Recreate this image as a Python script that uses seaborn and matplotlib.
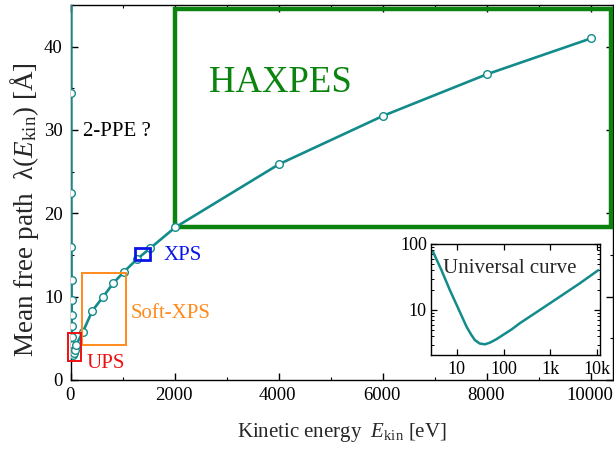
import matplotlib
matplotlib.use("Agg")
import matplotlib.pyplot as plt
from matplotlib.patches import Rectangle
from matplotlib.transforms import ScaledTranslation
from matplotlib.ticker import FixedLocator, MultipleLocator, LogLocator, NullFormatter
import seaborn as sns
import pandas as pd

# Mean free path vs. kinetic energy (main panel)
energy_ev = [3, 5, 6.7, 8, 10, 11.5, 13, 15, 17, 20, 24, 30, 40, 50, 70, 100,
             230, 410, 620, 810, 1020, 1270, 1520, 2000, 4000, 6000, 8000, 10000]
mfp_angstrom = [76, 34.5, 22.5, 16.0, 12.0, 9.6, 7.8, 6.5, 5.2, 4.2, 3.5, 3.1, 3.0, 3.2, 3.6, 4.2,
                5.8, 8.3, 10.0, 11.6, 13.0, 14.5, 15.8, 18.3, 25.9, 31.7, 36.7, 41.0]

# Universal curve (log-log inset)
uc_energy = [3.1, 4.7, 7.1, 10.7, 16.1, 20, 24.3, 31, 40, 51, 70, 98, 150, 223, 598, 1600, 4300, 10600]
uc_mfp = [76, 40, 20, 10.6, 5.6, 4.3, 3.5, 3.1, 3.02, 3.2, 3.6, 4.2, 5.1, 6.3, 10, 15.9, 25.4, 40]

x_ticks = [0, 2000, 4000, 6000, 8000, 10000]
y_ticks = [0, 10, 20, 30, 40]
inset_x_ticks = [10, 100, 1000, 10000]
inset_x_labels = ["10", "100", "1k", "10k"]
inset_y_ticks = [10, 100]
inset_y_labels = ["10", "100"]

TEAL = "#138b8b"
GREEN = "#0a840f"

sns.set_theme(style="ticks")
plt.rcParams["font.family"] = ["Liberation Serif", "DejaVu Serif"]
plt.rcParams["mathtext.fontset"] = "custom"
plt.rcParams["mathtext.rm"] = "Liberation Serif"
plt.rcParams["mathtext.it"] = "Liberation Serif:italic"
plt.rcParams["axes.edgecolor"] = "black"
plt.rcParams["axes.linewidth"] = 1.0

fig = plt.figure(figsize=(6.14, 4.5), dpi=100)
ax = fig.add_axes([71 / 614, 70 / 450, 542 / 614, 375 / 450])

main_df = pd.DataFrame({"E": energy_ev, "lam": mfp_angstrom})
sns.lineplot(data=main_df, x="E", y="lam", ax=ax, sort=False, color=TEAL, lw=1.9,
             marker="o", markersize=5.5, markerfacecolor="white",
             markeredgecolor=TEAL, markeredgewidth=1.0, zorder=4)

ax.set_xlim(0, 10420)
ax.set_ylim(0, 45)
ax.xaxis.set_major_locator(FixedLocator(x_ticks))
ax.xaxis.set_minor_locator(MultipleLocator(1000))
ax.yaxis.set_major_locator(FixedLocator(y_ticks))
ax.yaxis.set_minor_locator(MultipleLocator(5))
ax.tick_params(which="both", direction="in", top=True, right=True, colors="black",
               labelsize=13.5)
ax.tick_params(which="major", length=5, width=1.0)
ax.tick_params(which="minor", length=2.5, width=0.8)
ax.tick_params(axis="x", pad=5)
ax.tick_params(axis="y", pad=6)
ax.set_xlabel("")
ax.set_ylabel("")
for s in ax.spines.values():
    s.set_visible(True)
shift = ScaledTranslation(-1.5 / 100, 0, fig.dpi_scale_trans)
for lbl in ax.get_xticklabels():
    lbl.set_transform(lbl.get_transform() + shift)

# Technique regions
ax.add_patch(Rectangle((2000, 18.3), 8390, 26.2, fill=False, ec=GREEN, lw=3.2,
                       zorder=3, clip_on=False))
ax.add_patch(Rectangle((205, 4.2), 847, 8.6, fill=False, ec="#ff8a1c", lw=1.4,
                       zorder=5, clip_on=False))
ax.add_patch(Rectangle((1230, 14.4), 290, 1.5, fill=False, ec="#0a14e6", lw=2.0,
                       zorder=5, clip_on=False))
ax.add_patch(Rectangle((-52, 2.3), 239, 3.3, fill=False, ec="#ee1010", lw=1.4,
                       zorder=5, clip_on=False))

ax.text(2650, 34.5, "HAXPES", color=GREEN, fontsize=26.5, ha="left", va="baseline")
ax.text(1770, 14.4, "XPS", color="#0a14e6", fontsize=15, ha="left", va="baseline")
ax.text(1145, 7.4, "Soft-XPS", color="#ff8a1c", fontsize=15, ha="left", va="baseline")
ax.text(300, 1.4, "UPS", color="#ee1010", fontsize=15, ha="left", va="baseline")
ax.text(235, 29.3, "2-PPE ?", color="black", fontsize=15, ha="left", va="baseline")

fig.text(25 / 614, 1 - 210 / 450, r"Mean free path  λ($E_{\mathrm{kin}}$) [Å]",
         rotation=90, ha="center", va="center", fontsize=19.5)
fig.text(342 / 614, 1 - 433 / 450, r"Kinetic energy  $E_{\mathrm{kin}}$ [eV]",
         ha="center", va="center", fontsize=15)

# Inset: universal curve
ins = fig.add_axes([431 / 614, 95 / 450, 169 / 614, 111 / 450])
ins.set_facecolor("white")
uc_df = pd.DataFrame({"E": uc_energy, "lam": uc_mfp})
sns.lineplot(data=uc_df, x="E", y="lam", ax=ins, sort=False, color=TEAL, lw=1.8)
ins.set_xscale("log")
ins.set_yscale("log")
ins.set_xlim(2.8, 11600)
ins.set_ylim(2.08, 100)
ins.xaxis.set_major_locator(FixedLocator(inset_x_ticks))
ins.set_xticklabels(inset_x_labels)
ins.yaxis.set_major_locator(FixedLocator(inset_y_ticks))
ins.set_yticklabels(inset_y_labels)
ins.xaxis.set_minor_locator(LogLocator(base=10, subs=range(2, 10)))
ins.yaxis.set_minor_locator(LogLocator(base=10, subs=range(2, 10)))
ins.xaxis.set_minor_formatter(NullFormatter())
ins.yaxis.set_minor_formatter(NullFormatter())
ins.tick_params(which="both", direction="in", top=True, right=True, colors="black",
                labelsize=13)
ins.tick_params(which="major", length=4, width=0.9)
ins.tick_params(which="minor", length=2, width=0.7)
ins.tick_params(axis="x", pad=4)
ins.tick_params(axis="y", pad=3)
ins.set_xlabel("")
ins.set_ylabel("")
for s in ins.spines.values():
    s.set_visible(True)
    s.set_linewidth(1.0)
ins.text(0.467, 0.74, "Universal curve", transform=ins.transAxes, ha="center",
         va="baseline", fontsize=15)

fig.savefig("out.png", dpi=100)
